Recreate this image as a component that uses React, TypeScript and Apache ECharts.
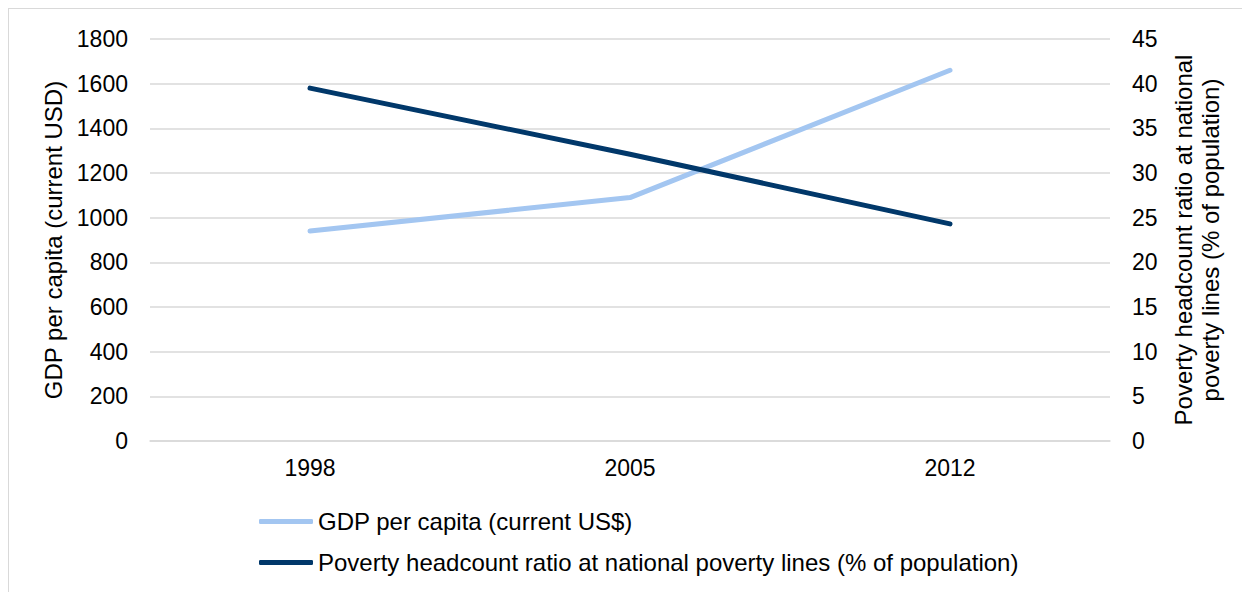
import React, { useEffect, useRef } from "react";
import * as echarts from "echarts";

// Years on the category axis
const years = ["1998", "2005", "2012"];
// GDP per capita, current US$
const gdpPerCapita = [940, 1090, 1660];
// Poverty headcount ratio at national poverty lines, % of population
const povertyRatio = [39.5, 32.1, 24.3];

const FONT = "'Liberation Sans', Arial, Helvetica, sans-serif";
const TEXT = "#000000";
const GRID = "#d9d9d9";
const LIGHT_BLUE = "#a3c6f1";
const NAVY = "#01386a";
const TICK_SIZE = 23;
const LABEL_SIZE = 24;

export default function App() {
  const ref = useRef<HTMLDivElement>(null);

  useEffect(() => {
    if (!ref.current) return;
    const chart = echarts.init(ref.current, undefined, { renderer: "svg" });
    chart.setOption({
      animation: false,
      textStyle: { fontFamily: FONT, color: TEXT },
      grid: { left: 141, right: 140, top: 30, bottom: 151, containLabel: false },
      legend: {
        orient: "vertical",
        left: 245,
        top: 494,
        icon: "roundRect",
        itemWidth: 54,
        itemHeight: 5,
        itemGap: 14,
        textStyle: { fontFamily: FONT, fontSize: LABEL_SIZE, color: TEXT, lineHeight: 27 },
        data: [
          "GDP per capita (current US$)",
          "Poverty headcount ratio at national poverty lines (% of population)",
        ],
      },
      xAxis: {
        type: "category",
        data: years,
        boundaryGap: true,
        axisLine: { show: true, lineStyle: { color: GRID, width: 1.5 } },
        axisTick: { show: false },
        axisLabel: { fontFamily: FONT, fontSize: TICK_SIZE, color: TEXT, margin: 15 },
      },
      yAxis: [
        {
          type: "value",
          min: 0,
          max: 1800,
          interval: 200,
          name: "GDP per capita (current USD)",
          nameLocation: "middle",
          nameGap: 82,
          nameRotate: 90,
          nameTextStyle: { fontFamily: FONT, fontSize: LABEL_SIZE, color: TEXT },
          axisLine: { show: false },
          axisTick: { show: false },
          axisLabel: {
            fontFamily: FONT,
            fontSize: TICK_SIZE,
            color: TEXT,
            margin: 22,
            formatter: (v: number) => String(v),
          },
          splitLine: { show: true, lineStyle: { color: GRID, width: 1.5 } },
        },
        {
          type: "value",
          min: 0,
          max: 45,
          interval: 5,
          position: "right",
          name: "Poverty headcount ratio at national\npoverty lines (% of population)",
          nameLocation: "middle",
          nameGap: 60,
          nameRotate: 90,
          nameTextStyle: { fontFamily: FONT, fontSize: LABEL_SIZE, color: TEXT, lineHeight: 27 },
          axisLine: { show: false },
          axisTick: { show: false },
          axisLabel: {
            fontFamily: FONT,
            fontSize: TICK_SIZE,
            color: TEXT,
            margin: 22,
            formatter: (v: number) => String(v),
          },
          splitLine: { show: false },
        },
      ],
      series: [
        {
          name: "GDP per capita (current US$)",
          type: "line",
          yAxisIndex: 0,
          data: gdpPerCapita,
          symbol: "none",
          itemStyle: { color: LIGHT_BLUE },
          lineStyle: { color: LIGHT_BLUE, width: 5, cap: "round", join: "round" },
        },
        {
          name: "Poverty headcount ratio at national poverty lines (% of population)",
          type: "line",
          yAxisIndex: 1,
          data: povertyRatio,
          symbol: "none",
          itemStyle: { color: NAVY },
          lineStyle: { color: NAVY, width: 5, cap: "round", join: "round" },
        },
      ],
    });
    return () => chart.dispose();
  }, []);

  return (
    <div
      style={{
        width: 1241,
        height: 583,
        borderLeft: `1px solid ${GRID}`,
        borderTop: `1px solid ${GRID}`,
      }}
    >
      <div ref={ref} style={{ width: 1241, height: 583 }} />
    </div>
  );
}
